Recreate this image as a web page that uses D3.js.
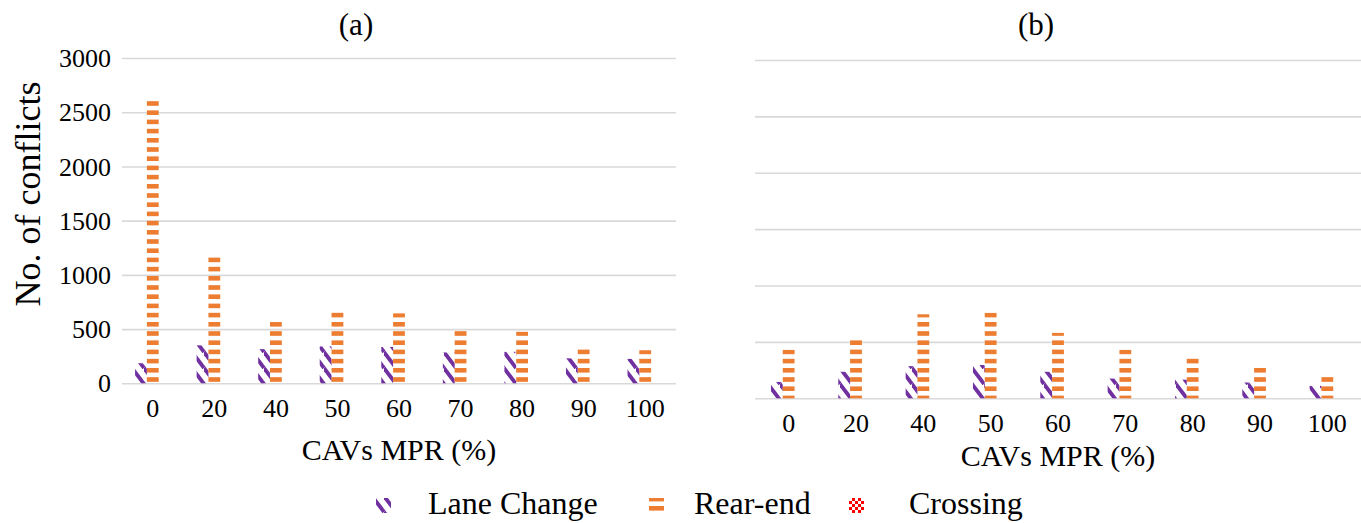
<!DOCTYPE html>
<html><head><meta charset="utf-8">
<script src="https://cdn.jsdelivr.net/npm/d3@7"></script>
<style>
body{margin:0;background:#fff}
svg{display:block}
text{font-family:"Liberation Serif","Times New Roman",serif !important;fill:#000}
</style>
</head><body>
<svg id="c" width="1361" height="523"></svg>
<script>
// ---- data ----
const categories = ["0","20","40","50","60","70","80","90","100"];
const seriesNames = ["Lane Change","Rear-end","Crossing"];
const yTicks = [0,500,1000,1500,2000,2500,3000];
const aLaneChange = [185, 350, 315, 340, 335, 285, 290, 230, 225];
const aRearEnd    = [2640,1165, 565, 660, 645, 485, 475, 325, 305];
const aCrossing   = [0,0,0,0,0,0,0,0,0];
const bLaneChange = [145, 235, 285, 295, 235, 175, 165, 140, 110];
const bRearEnd    = [430, 525, 745, 760, 580, 430, 365, 285, 205];
const bCrossing   = [0,0,0,0,0,0,0,0,0];

const SERIF = '"Liberation Serif","Times New Roman",serif';
const svg = d3.select("#c");
const defs = svg.append("defs");

// Lane change: purple diagonal stripes
const pLC = defs.append("pattern").attr("id","pLC").attr("patternUnits","userSpaceOnUse")
  .attr("width",12).attr("height",16);
[[0,0,12,16],[0,-16,12,0],[0,16,12,32],[-12,0,0,16]].forEach(l=>{
  pLC.append("line").attr("x1",l[0]).attr("y1",l[1]).attr("x2",l[2]).attr("y2",l[3])
    .attr("stroke","#7030A0").attr("stroke-width",3.8);
});
// Rear-end: orange horizontal dashes
const pRE = defs.append("pattern").attr("id","pRE").attr("patternUnits","userSpaceOnUse")
  .attr("width",12).attr("height",9.2);
pRE.append("rect").attr("x",0).attr("y",0).attr("width",12).attr("height",4.6).attr("fill","#ED7D31");
// Crossing: red checkerboard
const pCR = defs.append("pattern").attr("id","pCR").attr("patternUnits","userSpaceOnUse")
  .attr("width",6).attr("height",6);
pCR.append("rect").attr("width",6).attr("height",6).attr("fill","#fff");
pCR.append("rect").attr("x",0).attr("y",0).attr("width",3).attr("height",3).attr("fill","#FF0000");
pCR.append("rect").attr("x",3).attr("y",3).attr("width",3).attr("height",3).attr("fill","#FF0000");

const fills = {"Lane Change":"url(#pLC)","Rear-end":"url(#pRE)","Crossing":"url(#pCR)"};

const panels = [
  {title:"(a)", titleX:356, titleY:35, left:122, right:676, top:58, bottom:383.3,
   showY:true, tickY:417, xTitleX:399, xTitleY:460,
   data:{"Lane Change":aLaneChange,"Rear-end":aRearEnd,"Crossing":aCrossing}},
  {title:"(b)", titleX:1036, titleY:35, left:755, right:1361, top:60, bottom:398.3,
   showY:false, tickY:432, xTitleX:1058, xTitleY:466,
   data:{"Lane Change":bLaneChange,"Rear-end":bRearEnd,"Crossing":bCrossing}}
];

const barW = 11.8;
panels.forEach(p=>{
  const g = svg.append("g");
  const step = (p.right-p.left)/categories.length;
  const pad = 1 - 3*barW/step;
  const x0 = d3.scaleBand().domain(categories).range([p.left,p.right])
    .paddingInner(pad).paddingOuter(pad/2);
  const x1 = d3.scaleBand().domain(seriesNames).range([0,x0.bandwidth()]);
  const y = d3.scaleLinear().domain([0,3000]).range([p.bottom,p.top]);

  // gridlines
  const grid = g.append("g").attr("transform",`translate(${p.left},0)`)
    .call(d3.axisLeft(y).tickValues(yTicks).tickSize(-(p.right-p.left)).tickFormat(""));
  grid.select(".domain").remove();
  grid.selectAll("line").attr("stroke","#d9d9d9").attr("stroke-width",1.6);

  if(p.showY){
    const ya = g.append("g").attr("transform",`translate(${p.left-11},0)`)
      .call(d3.axisLeft(y).tickValues(yTicks).tickSize(0).tickPadding(0).tickFormat(d3.format("d")));
    ya.attr("font-family",SERIF);
    ya.select(".domain").remove();
    ya.selectAll("text").style("font-size","26px").style("font-family",SERIF).attr("dy","0.33em");
  }

  // bars
  seriesNames.forEach(s=>{
    g.append("g").selectAll("rect").data(categories).join("rect")
      .attr("x",c=>x0(c)+x1(s))
      .attr("width",x1.bandwidth())
      .attr("y",(c,i)=>y(p.data[s][i]))
      .attr("height",(c,i)=>p.bottom-y(p.data[s][i]))
      .attr("fill",fills[s]);
  });

  // x tick labels
  const xa = g.append("g").attr("transform",`translate(0,${p.tickY})`)
    .call(d3.axisBottom(x0).tickSize(0).tickPadding(0));
  xa.attr("font-family",SERIF);
  xa.select(".domain").remove();
  xa.selectAll("text").style("font-size","26px").style("font-family",SERIF).attr("dy","0");

  g.append("text").attr("x",p.xTitleX).attr("y",p.xTitleY).attr("text-anchor","middle")
    .style("font-size","30px").style("font-family",SERIF).text("CAVs MPR (%)");
  g.append("text").attr("x",p.titleX).attr("y",p.titleY).attr("text-anchor","middle")
    .style("font-size","31px").style("font-family",SERIF).text(p.title);
});

// y-axis title
svg.append("text").attr("transform","translate(40,194) rotate(-90)").attr("text-anchor","middle")
  .style("font-size","36px").style("font-family",SERIF).text("No. of conflicts");

// legend
const legendItems = [
  {name:"Lane Change", sx:376, tx:428},
  {name:"Rear-end", sx:649, tx:694},
  {name:"Crossing", sx:849, tx:909}
];
const lg = svg.append("g");
legendItems.forEach(it=>{
  lg.append("rect").attr("x",it.sx).attr("y",498).attr("width",15).attr("height",15)
    .attr("fill",fills[it.name]);
  lg.append("text").attr("x",it.tx).attr("y",514).style("font-size","32px")
    .style("font-family",SERIF).text(it.name);
});
</script>
</body></html>
